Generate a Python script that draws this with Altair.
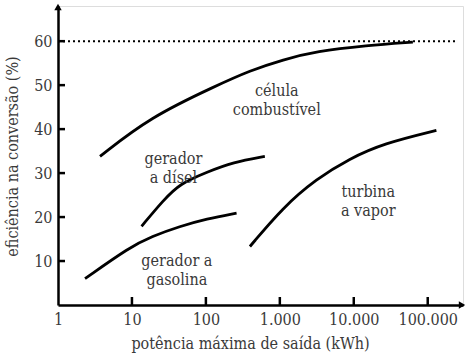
import altair as alt
import pandas as pd

# ---- data ----
celula_x = [3.7, 17.5, 139, 394, 1110, 3130, 14800, 63000]
celula_y = [33.8, 42.7, 49.9, 53.3, 55.8, 57.7, 59.0, 59.8]

disel_x = [13.5, 26.5, 44.6, 102, 234, 627]
disel_y = [17.9, 23.8, 27.6, 30.2, 32.5, 33.8]

gasolina_x = [2.32, 9.4, 18.5, 44.6, 102, 260]
gasolina_y = [6.0, 13.2, 15.6, 17.9, 19.6, 20.9]

turbina_x = [394, 1100, 3130, 8830, 24900, 131000]
turbina_y = [13.3, 22.2, 28.7, 33.3, 36.7, 39.7]

label_text = ["célula\ncombustível", "gerador\na dísel", "gerador a\ngasolina", "turbina\na vapor"]
label_x = [910, 36.4, 40.5, 15700]
label_y = [48.6, 33.3, 9.9, 25.6]

x_tick_values = [1, 10, 100, 1000, 10000, 100000]
x_tick_labels = ["1", "10", "100", "1.000", "10.000", "100.000"]
y_tick_values = [10, 20, 30, 40, 50, 60]
limit_value = [60]

# ---- tables ----
rows = []
for name, xs, ys in [("celula", celula_x, celula_y), ("disel", disel_x, disel_y),
                     ("gasolina", gasolina_x, gasolina_y), ("turbina", turbina_x, turbina_y)]:
    for i, (a, b) in enumerate(zip(xs, ys)):
        rows.append({"serie": name, "ordem": i, "x": a, "y": b})
curves = pd.DataFrame(rows)
labels = pd.DataFrame({"t": label_text, "x": label_x, "y": label_y})
xt = pd.DataFrame({"x": x_tick_values[1:]})
yt = pd.DataFrame({"y": y_tick_values})
lim = pd.DataFrame({"y": limit_value})
one = pd.DataFrame({"a": [0]})

W, H = 405, 299
SERIF = "DejaVu Serif Condensed"
TXT = "#3a3a3a"

label_expr = "".join(f"datum.value == {v} ? '{l}' : " for v, l in zip(x_tick_values, x_tick_labels)) + "''"

xscale = alt.Scale(type="log", domain=[1, 300000])
yscale = alt.Scale(domain=[0, 68])

xaxis = alt.Axis(values=x_tick_values, labelExpr=label_expr, tickSize=0, grid=False,
                 domainColor="black", domainWidth=2.5, labelFont=SERIF, labelFontSize=16,
                 labelColor=TXT, labelPadding=6, labelFlush=False,
                 title="potência máxima de saída (kWh)", titleFont=SERIF, titleFontSize=16,
                 titleFontWeight="normal", titleColor=TXT, titleX=192, titleY=38,
                 titleBaseline="middle")
yaxis = alt.Axis(values=y_tick_values, tickSize=0, grid=False,
                 domainColor="black", domainWidth=2.5, labelFont=SERIF, labelFontSize=16,
                 labelColor=TXT, labelPadding=6,
                 title="eficiência na conversão (%)", titleFont=SERIF, titleFontSize=16,
                 titleFontWeight="normal", titleColor=TXT, titleAngle=270, titleX=-46, titleY=150,
                 titleAlign="center", titleBaseline="middle")

lines = alt.Chart(curves).mark_line(interpolate="basis", color="black", strokeWidth=2.8).encode(
    x=alt.X("x:Q", scale=xscale, axis=xaxis),
    y=alt.Y("y:Q", scale=yscale, axis=yaxis),
    detail="serie:N",
    order="ordem:O",
)

dotted = alt.Chart(lim).mark_rule(color="black", strokeWidth=2, strokeDash=[2, 3]).encode(
    y=alt.Y("y:Q", scale=yscale), x=alt.value(0), x2=alt.value(400)
)

xticks = alt.Chart(xt).mark_rule(color="black", strokeWidth=2.5).encode(
    x=alt.X("x:Q", scale=xscale), y=alt.value(H), y2=alt.value(H - 8)
)
yticks = alt.Chart(yt).mark_rule(color="black", strokeWidth=2.5).encode(
    y=alt.Y("y:Q", scale=yscale), x=alt.value(0), x2=alt.value(7)
)

texts = alt.Chart(labels).mark_text(font=SERIF, fontSize=16, color=TXT, align="center",
                                    baseline="middle", lineBreak="\n", lineHeight=19).encode(
    x=alt.X("x:Q", scale=xscale), y=alt.Y("y:Q", scale=yscale), text="t:N"
)

arrow_up = alt.Chart(one).mark_point(shape="triangle-up", filled=True, color="black", size=55, opacity=1).encode(
    x=alt.value(0), y=alt.value(1)
)
arrow_right = alt.Chart(one).mark_point(shape="triangle-right", filled=True, color="black", size=55, opacity=1).encode(
    x=alt.value(W - 1), y=alt.value(H)
)

chart = alt.layer(dotted, lines, xticks, yticks, texts, arrow_up, arrow_right).properties(
    width=W, height=H,
    autosize=alt.AutoSizeParams(type="none"),
    padding={"left": 58, "top": 6, "right": 9, "bottom": 48},
).configure_view(stroke=None).configure(background="white")

chart.save("out.html", embed_options={"renderer": "svg", "actions": False})
